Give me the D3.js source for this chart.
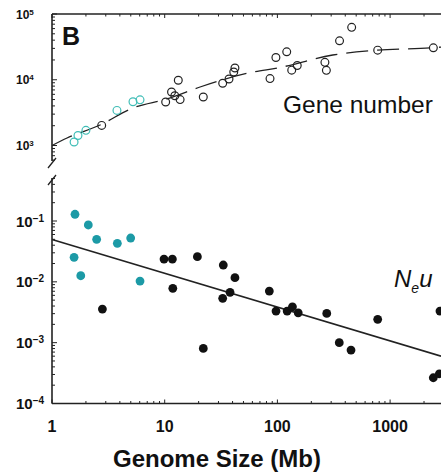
<!DOCTYPE html>
<html>
<head>
<meta charset="utf-8">
<script src="https://cdn.jsdelivr.net/npm/d3@7"></script>
<style>
  body { margin: 0; background: #fff; }
  text { font-family: "Liberation Sans", Arial, sans-serif; fill: #111; }
</style>
</head>
<body>
<svg id="chart" width="441" height="475"></svg>
<script>
// top panel: gene number (open circles)
var cyanOpenG = [1.57, 1.70, 2.0, 3.77, 5.23, 6.04];
var cyanOpenN = [1130, 1420, 1700, 3420, 4620, 4950];
var blackOpenG = [2.76, 10.2, 11.5, 12.3, 13.2, 13.7, 22, 32.7, 37.2, 41, 42, 86, 97, 121, 134, 150, 264, 272, 356, 456, 776, 2420];
var blackOpenN = [2020, 4580, 6510, 5700, 9820, 4990, 5460, 8830, 10250, 13100, 15100, 10420, 21800, 26600, 14000, 16500, 18400, 13900, 39100, 62700, 28200, 30600];
// dashed trend
var curveG = [1, 1.36, 2.67, 5.23, 10.5, 20.6, 60.9, 100, 310, 776, 2420, 2830];
var curveN = [1000, 1300, 2050, 3720, 5100, 7760, 13100, 15100, 23800, 28300, 30700, 31400];

// bottom panel: Ne*u (filled circles)
var cyanFillG = [1.6, 2.1, 2.49, 3.8, 4.99, 1.57, 1.8, 6.04];
var cyanFillV = [0.129, 0.086, 0.050, 0.043, 0.0525, 0.0253, 0.0126, 0.0103];
var blackFillG = [2.8, 9.86, 11.7, 11.8, 19.5, 33.1, 42, 38, 32.7, 84.8, 97.2, 122, 136, 153, 274, 776, 2770, 22, 354, 450, 2417, 2735];
var blackFillV = [0.00357, 0.0237, 0.0237, 0.00781, 0.0259, 0.0189, 0.0117, 0.00671, 0.00536, 0.00706, 0.00331, 0.00331, 0.00389, 0.0031, 0.00303, 0.00242, 0.00331, 0.000805, 0.001, 0.000755, 0.000265, 0.000308];
var fitG = [1, 2830];
var fitV = [0.0497, 0.0006];

var xTicks = [1, 10, 100, 1000];
var topTicks = [1e3, 1e4, 1e5];
var topTickExp = ["3", "4", "5"];
var botTicks = [1e-4, 1e-3, 1e-2, 1e-1];
var botTickExp = ["-4", "-3", "-2", "-1"];

var svg = d3.select("#chart");
var left = 52, ink = "#222";

var x = d3.scaleLog().domain([1, 10000]).range([left, left + 4 * 112.7]);
var yTop = d3.scaleLog().domain([1e3, 1e5]).range([145.5, 14]);
var yBot = d3.scaleLog().domain([1e-4, 1e-1]).range([403.5, 221]);

function isMajor(v) {
  var l = Math.log10(v);
  return Math.abs(l - Math.round(l)) < 1e-6;
}

// frame lines
svg.append("line").attr("x1", left).attr("x2", 441).attr("y1", yTop(1e5)).attr("y2", yTop(1e5))
  .attr("stroke", ink).attr("stroke-width", 1.6);
svg.append("line").attr("x1", left).attr("x2", 441).attr("y1", yBot(1e-4)).attr("y2", yBot(1e-4))
  .attr("stroke", ink).attr("stroke-width", 1.6);
svg.append("line").attr("x1", left).attr("x2", left).attr("y1", yTop(1e5)).attr("y2", 161)
  .attr("stroke", ink).attr("stroke-width", 1.6);
svg.append("line").attr("x1", left).attr("x2", left).attr("y1", 178).attr("y2", yBot(1e-4))
  .attr("stroke", ink).attr("stroke-width", 1.6);
// axis break
svg.append("path").attr("d", "M48,168 L56,158 M48,185 L56,175")
  .attr("stroke", ink).attr("stroke-width", 1.3).attr("fill", "none");

// x ticks on top and bottom frames
var xt = x.ticks().filter(function(d) { return d >= 1 && x(d) <= 441; });
xt.forEach(function(d) {
  var len = isMajor(d) ? 4 : 2.5;
  svg.append("line").attr("x1", x(d)).attr("x2", x(d))
    .attr("y1", yTop(1e5)).attr("y2", yTop(1e5) + len).attr("stroke", ink);
  svg.append("line").attr("x1", x(d)).attr("x2", x(d))
    .attr("y1", yBot(1e-4)).attr("y2", yBot(1e-4) - len).attr("stroke", ink);
});

// y ticks
yTop.copy().domain([560, 1e5]).ticks().forEach(function(d) {
  if (yTop(d) > 161) return;
  svg.append("line").attr("x1", left).attr("x2", left + (isMajor(d) ? 5 : 3))
    .attr("y1", yTop(d)).attr("y2", yTop(d)).attr("stroke", ink);
});
yBot.copy().domain([1e-4, 0.5]).ticks().forEach(function(d) {
  if (yBot(d) < 178) return;
  svg.append("line").attr("x1", left).attr("x2", left + (isMajor(d) ? 5 : 3))
    .attr("y1", yBot(d)).attr("y2", yBot(d)).attr("stroke", ink);
});

// tick labels
topTicks.forEach(function(d, i) {
  var t = svg.append("text").attr("x", 16).attr("y", yTop(d) + 4.5)
    .attr("font-size", 12).attr("font-weight", "bold");
  t.append("tspan").text("10");
  t.append("tspan").attr("dy", -4).attr("font-size", 8).text(topTickExp[i]);
});
botTicks.forEach(function(d, i) {
  var t = svg.append("text").attr("x", 16).attr("y", yBot(d) + 5.5)
    .attr("font-size", 15).attr("font-weight", "bold");
  t.append("tspan").text("10");
  t.append("tspan").attr("dy", -5).attr("font-size", 10).text(botTickExp[i].replace("-", "\u2212"));
});
xTicks.forEach(function(d) {
  svg.append("text").attr("x", x(d)).attr("y", 432).attr("text-anchor", "middle")
    .attr("font-size", 16).attr("font-weight", "bold").text(d);
});

svg.append("text").attr("x", 217).attr("y", 467).attr("text-anchor", "middle")
  .attr("font-size", 24).attr("font-weight", "bold").text("Genome Size (Mb)");
svg.append("text").attr("x", 62).attr("y", 45).attr("font-size", 25)
  .attr("font-weight", "bold").text("B");
svg.append("text").attr("x", 283).attr("y", 113).attr("font-size", 24.5).text("Gene number");
var ne = svg.append("text").attr("x", 394).attr("y", 287).attr("font-size", 24).attr("font-style", "italic");
ne.append("tspan").text("N");
ne.append("tspan").attr("dy", 6).attr("font-size", 14).text("e");
ne.append("tspan").attr("dy", -6).text("u");

// top dashed curve
var curve = d3.line()
  .x(function(d, i) { return x(curveG[i]); })
  .y(function(d, i) { return yTop(curveN[i]); })
  .curve(d3.curveMonotoneX);
svg.append("path").datum(curveG).attr("d", curve)
  .attr("fill", "none").attr("stroke", ink).attr("stroke-width", 1.3)
  .attr("stroke-dasharray", "22,9");

// bottom fit line
var fit = d3.line()
  .x(function(d, i) { return x(fitG[i]); })
  .y(function(d, i) { return yBot(fitV[i]); });
svg.append("path").datum(fitG).attr("d", fit)
  .attr("fill", "none").attr("stroke", ink).attr("stroke-width", 1.5);

// points
svg.selectAll(".cyanOpen").data(cyanOpenG).enter().append("circle")
  .attr("class", "cyanOpen")
  .attr("cx", function(d) { return x(d); })
  .attr("cy", function(d, i) { return yTop(cyanOpenN[i]); })
  .attr("r", 3.9).attr("fill", "none").attr("stroke", "#3fbdb6").attr("stroke-width", 1.2);

svg.selectAll(".blackOpen").data(blackOpenG).enter().append("circle")
  .attr("class", "blackOpen")
  .attr("cx", function(d) { return x(d); })
  .attr("cy", function(d, i) { return yTop(blackOpenN[i]); })
  .attr("r", 3.9).attr("fill", "none").attr("stroke", ink).attr("stroke-width", 1.2);

svg.selectAll(".cyanFill").data(cyanFillG).enter().append("circle")
  .attr("class", "cyanFill")
  .attr("cx", function(d) { return x(d); })
  .attr("cy", function(d, i) { return yBot(cyanFillV[i]); })
  .attr("r", 4.4).attr("fill", "#1c9aa6");

svg.selectAll(".blackFill").data(blackFillG).enter().append("circle")
  .attr("class", "blackFill")
  .attr("cx", function(d) { return x(d); })
  .attr("cy", function(d, i) { return yBot(blackFillV[i]); })
  .attr("r", 4.4).attr("fill", "#111");
</script>
</body>
</html>
